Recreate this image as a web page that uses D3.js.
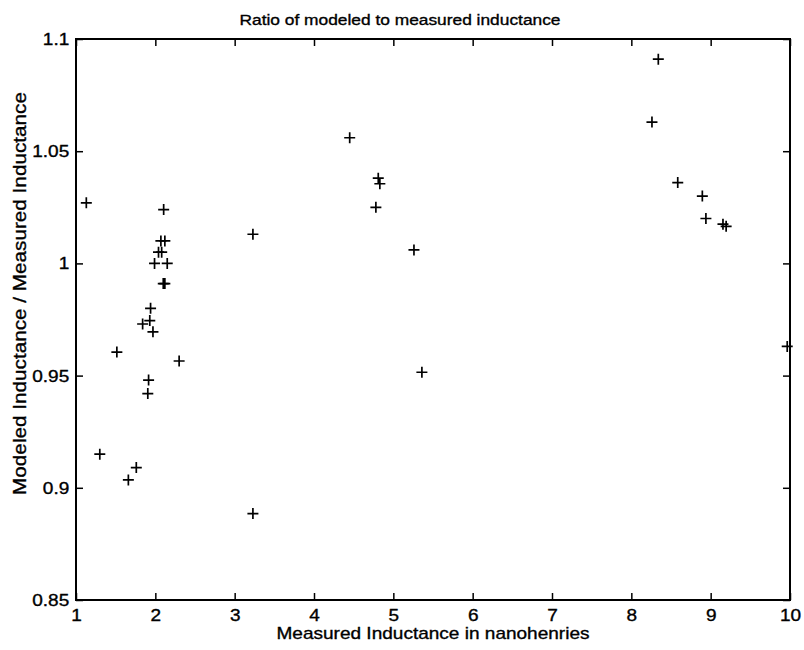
<!DOCTYPE html>
<html>
<head>
<meta charset="utf-8">
<script src="https://cdn.jsdelivr.net/npm/d3@7"></script>
<style>
  body { margin: 0; background: #fff; }
  svg { display: block; font-family: "Liberation Sans", Arial, sans-serif; }
  text { stroke: #000; stroke-width: 0.35px; }
</style>
</head>
<body>
<svg id="chart" width="804" height="650"></svg>
<script>
/* Data */
const inductance = [1.13, 2.105, 3.23, 2.07, 2.12, 2.04, 2.08, 1.99, 2.15, 2.10, 2.12,
  1.94, 1.93, 1.84, 1.97, 1.515, 2.30, 1.915, 1.905, 1.30, 1.76, 1.66, 3.23,
  4.45, 4.81, 4.83, 4.78, 5.26, 5.36, 8.34, 8.26, 8.585, 8.895, 8.94, 9.155, 9.195, 9.965];
const ratio = [1.027, 1.024, 1.013, 1.010, 1.010, 1.005, 1.005, 1.000, 1.000, 0.991, 0.991,
  0.980, 0.9745, 0.973, 0.9695, 0.9605, 0.9565, 0.948, 0.942, 0.915, 0.909, 0.9035, 0.8885,
  1.056, 1.038, 1.0355, 1.025, 1.006, 0.9515, 1.091, 1.063, 1.036, 1.030, 1.020, 1.0175, 1.0165, 0.963];

const xTicks = [1, 2, 3, 4, 5, 6, 7, 8, 9, 10];
const xTickLabels = ["1", "2", "3", "4", "5", "6", "7", "8", "9", "10"];
const yTicks = [0.85, 0.9, 0.95, 1, 1.05, 1.1];
const yTickLabels = ["0.85", "0.9", "0.95", "1", "1.05", "1.1"];

const points = inductance.map((v, i) => ({ x: v, y: ratio[i] }));

/* Layout */
const margin = { top: 39, right: 14, bottom: 50, left: 76 };
const width = 804 - margin.left - margin.right;
const height = 650 - margin.top - margin.bottom;
const stretch = 1.12; /* scanned glyphs are wider than Arial */

const svg = d3.select("#chart")
  .append("g")
  .attr("transform", `translate(${margin.left},${margin.top})`);

const x = d3.scaleLinear().domain([1, 10]).range([0, width]);
const y = d3.scaleLinear().domain([0.85, 1.1]).range([height, 0]);

/* Axes, ticks pointing inward on all four sides */
const styleAxis = g => {
  g.select(".domain").remove();
  g.selectAll("line").attr("stroke", "#000").attr("stroke-width", 1.5);
  g.selectAll("text").attr("fill", "#000").style("font-size", "17px");
};

svg.append("g")
  .attr("transform", `translate(0,${height})`)
  .call(d3.axisBottom(x).tickValues(xTicks).tickFormat((d, i) => xTickLabels[i])
    .tickSizeInner(-7).tickSizeOuter(0).tickPadding(9))
  .call(styleAxis)
  .call(g => g.selectAll("text").attr("transform", `scale(${stretch},1)`));

svg.append("g")
  .call(d3.axisTop(x).tickValues(xTicks).tickFormat("")
    .tickSizeInner(-7).tickSizeOuter(0))
  .call(styleAxis);

svg.append("g")
  .call(d3.axisLeft(y).tickValues(yTicks).tickFormat((d, i) => yTickLabels[i])
    .tickSizeInner(-7).tickSizeOuter(0).tickPadding(6))
  .call(styleAxis)
  .call(g => g.selectAll("text").attr("transform", `scale(${stretch},1)`));

svg.append("g")
  .attr("transform", `translate(${width},0)`)
  .call(d3.axisRight(y).tickValues(yTicks).tickFormat("")
    .tickSizeInner(-7).tickSizeOuter(0))
  .call(styleAxis);

/* Frame */
svg.append("rect")
  .attr("width", width)
  .attr("height", height)
  .attr("fill", "none")
  .attr("stroke", "#000")
  .attr("stroke-width", 2);

/* Plus markers */
const s = 5.5;
svg.append("g")
  .selectAll("path")
  .data(points)
  .join("path")
  .attr("d", d => {
    const px = x(d.x), py = y(d.y);
    return `M${px - s},${py}H${px + s}M${px},${py - s}V${py + s}`;
  })
  .attr("stroke", "#000")
  .attr("stroke-width", 1.7)
  .attr("fill", "none");

/* Titles */
svg.append("text")
  .attr("transform", `translate(${width / 2 - 33},-14) scale(${stretch},1)`)
  .attr("text-anchor", "middle")
  .style("font-size", "15.5px")
  .text("Ratio of modeled to measured inductance");

svg.append("text")
  .attr("transform", `translate(${width / 2},${height + 39}) scale(${stretch},1)`)
  .attr("text-anchor", "middle")
  .style("font-size", "17px")
  .text("Measured Inductance in nanohenries");

svg.append("text")
  .attr("transform", `translate(-50,${height / 2 - 26}) rotate(-90) scale(${stretch},1)`)
  .attr("text-anchor", "middle")
  .style("font-size", "18.5px")
  .text("Modeled Inductance / Measured Inductance");
</script>
</body>
</html>
